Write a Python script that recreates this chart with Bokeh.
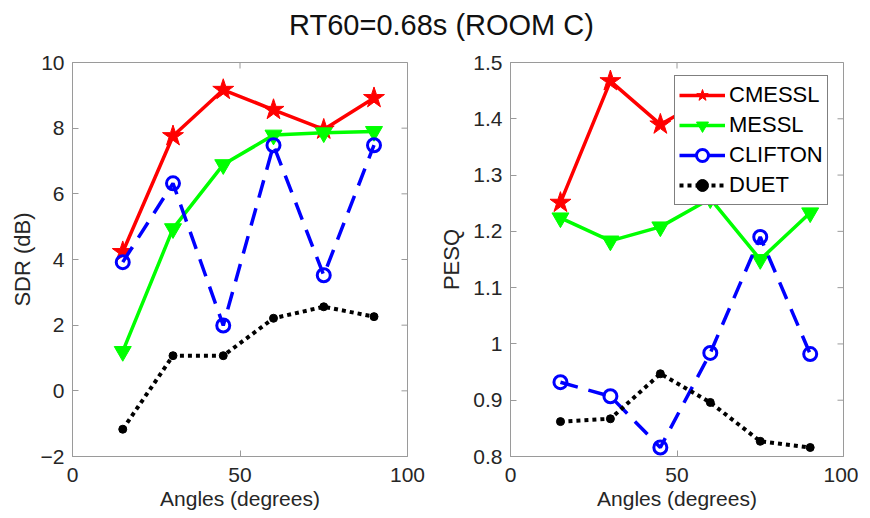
import math
from bokeh.plotting import figure
from bokeh.models import Range1d, FixedTicker, Label, Legend, LegendItem, CustomJSTickFormatter
from bokeh.layouts import column, row
from bokeh.embed import file_html
from bokeh.resources import INLINE

# ---------------- data ----------------
angles = [15, 30, 45, 60, 75, 90]
series_names = ["CMESSL", "MESSL", "CLIFTON", "DUET"]

sdr_cmessl = [4.23, 7.76, 9.17, 8.56, 7.96, 8.92]
sdr_messl = [1.20, 4.94, 6.89, 7.79, 7.86, 7.90]
sdr_clifton = [3.92, 6.32, 1.99, 7.48, 3.52, 7.48]
sdr_duet = [-1.17, 1.07, 1.07, 2.21, 2.56, 2.26]

pesq_cmessl = [1.251, 1.467, 1.390, 1.440, 1.370, 1.420]
pesq_messl = [1.224, 1.183, 1.208, 1.258, 1.150, 1.233]
pesq_clifton = [0.932, 0.907, 0.816, 0.984, 1.190, 0.982]
pesq_duet = [0.862, 0.867, 0.947, 0.896, 0.827, 0.816]

x_ticks = [0, 50, 100]
sdr_ticks = [-2, 0, 2, 4, 6, 8, 10]
pesq_ticks = [0.8, 0.9, 1.0, 1.1, 1.2, 1.3, 1.4, 1.5]

title_text = "RT60=0.68s (ROOM C)"
x_label = "Angles (degrees)"
sdr_label = "SDR (dB)"
pesq_label = "PESQ"

# ---------------- styles ----------------
FONT = "Liberation Sans"
TICK_COLOR = "#262626"
BOX_COLOR = "#9a9a9a"

styles = {
    "CMESSL": dict(color="#ff0000", dash="solid", marker="star", size=22, fill=True, lw=3.5),
    "MESSL": dict(color="#00ff00", dash="solid", marker="inverted_triangle", size=17, fill=True, lw=3.5),
    "CLIFTON": dict(color="#0000ff", dash="18 11", marker="circle", size=13, fill=False, lw=3.5),
    "DUET": dict(color="#000000", dash="4 4", marker="circle", size=8, fill=True, lw=4),
}


def style_axis(ax, ticks, formatter=None):
    ax.ticker = FixedTicker(ticks=ticks)
    ax.major_tick_in = 6
    ax.major_tick_out = 0
    ax.minor_tick_line_color = None
    ax.major_tick_line_color = BOX_COLOR
    ax.axis_line_color = BOX_COLOR
    ax.major_label_text_font = FONT
    ax.major_label_text_color = TICK_COLOR
    ax.major_label_text_font_size = "21px"
    if formatter is not None:
        ax.formatter = formatter


def make_panel(width, left, right, x_lo, x_hi, y_lo, y_hi, yticks, ylabel, ylabel_standoff,
               data, formatter=None):
    p = figure(width=width, height=464, x_range=Range1d(x_lo, x_hi), y_range=Range1d(y_lo, y_hi),
               output_backend="svg", toolbar_location=None,
               min_border_left=left, min_border_right=right,
               min_border_top=12, min_border_bottom=58)
    p.xgrid.visible = False
    p.ygrid.visible = False
    p.outline_line_color = BOX_COLOR
    p.outline_line_width = 1
    p.background_fill_color = "white"
    p.border_fill_color = "white"

    style_axis(p.xaxis[0], x_ticks)
    p.xaxis[0].major_label_standoff = 11
    p.xaxis[0].axis_label = x_label
    p.xaxis[0].axis_label_standoff = 2
    p.xaxis[0].axis_label_text_font = FONT
    p.xaxis[0].axis_label_text_font_size = "21px"
    p.xaxis[0].axis_label_text_font_style = "normal"
    p.xaxis[0].axis_label_text_color = TICK_COLOR

    style_axis(p.yaxis[0], yticks, formatter=formatter)
    p.yaxis[0].major_label_standoff = 8
    p.yaxis[0].axis_label = ylabel
    p.yaxis[0].axis_label_standoff = ylabel_standoff
    p.yaxis[0].axis_label_text_font = FONT
    p.yaxis[0].axis_label_text_font_size = "22px"
    p.yaxis[0].axis_label_text_font_style = "normal"
    p.yaxis[0].axis_label_text_color = TICK_COLOR

    # inward ticks on the top and right edges of the box (MATLAB "box on")
    p.scatter(x_ticks, [y_hi] * len(x_ticks), marker="dash", angle=math.pi / 2, size=12,
              line_color=BOX_COLOR, line_width=1)
    p.scatter([x_hi] * len(yticks), yticks, marker="dash", size=12,
              line_color=BOX_COLOR, line_width=1)

    items = []
    for name, ys in zip(series_names, data):
        s = styles[name]
        lr = p.line(angles, ys, line_color=s["color"], line_width=s["lw"], line_dash=s["dash"])
        if s["fill"]:
            sr = p.scatter(angles, ys, marker=s["marker"], size=s["size"],
                           fill_color=s["color"], line_color=s["color"], line_width=1)
        else:
            sr = p.scatter(angles, ys, marker=s["marker"], size=s["size"],
                           fill_color=None, line_color=s["color"], line_width=3)
        items.append(LegendItem(label=name, renderers=[lr, sr]))
    return p, items


p1, _ = make_panel(436, 72, 29, 0, 100, -2, 10, sdr_ticks, sdr_label, 3,
                   [sdr_cmessl, sdr_messl, sdr_clifton, sdr_duet])

pesq_fmt = CustomJSTickFormatter(code="return tick.toFixed(1).replace(/\\.0$/, '');")
p2, items = make_panel(422, 72, 15, 0, 100, 0.8, 1.5, pesq_ticks, pesq_label, 6,
                       [pesq_cmessl, pesq_messl, pesq_clifton, pesq_duet], formatter=pesq_fmt)

legend = Legend(items=items, location=(164, 251), orientation="vertical",
                padding=4, spacing=0, margin=0,
                glyph_width=46, glyph_height=30, label_height=30, label_standoff=4,
                label_text_font=FONT, label_text_font_size="22px", label_text_color="black",
                border_line_color="black", border_line_width=1,
                background_fill_color="white", background_fill_alpha=1.0)
p2.add_layout(legend)

# title panel
pt = figure(width=858, height=50, x_range=Range1d(0, 1), y_range=Range1d(0, 1),
            output_backend="svg", toolbar_location=None,
            x_axis_type=None, y_axis_type=None,
            min_border_left=0, min_border_right=0, min_border_top=0, min_border_bottom=0)
pt.xgrid.visible = False
pt.ygrid.visible = False
pt.outline_line_color = None
pt.add_layout(Label(x=441, y=26, x_units="screen", y_units="screen", text=title_text,
                    text_align="center", text_baseline="middle",
                    text_font=FONT, text_font_size="29px", text_color="#111111"))

layout = column(pt, row(p1, p2, spacing=0), spacing=0)

open("out.html", "w").write(file_html(layout, INLINE))
